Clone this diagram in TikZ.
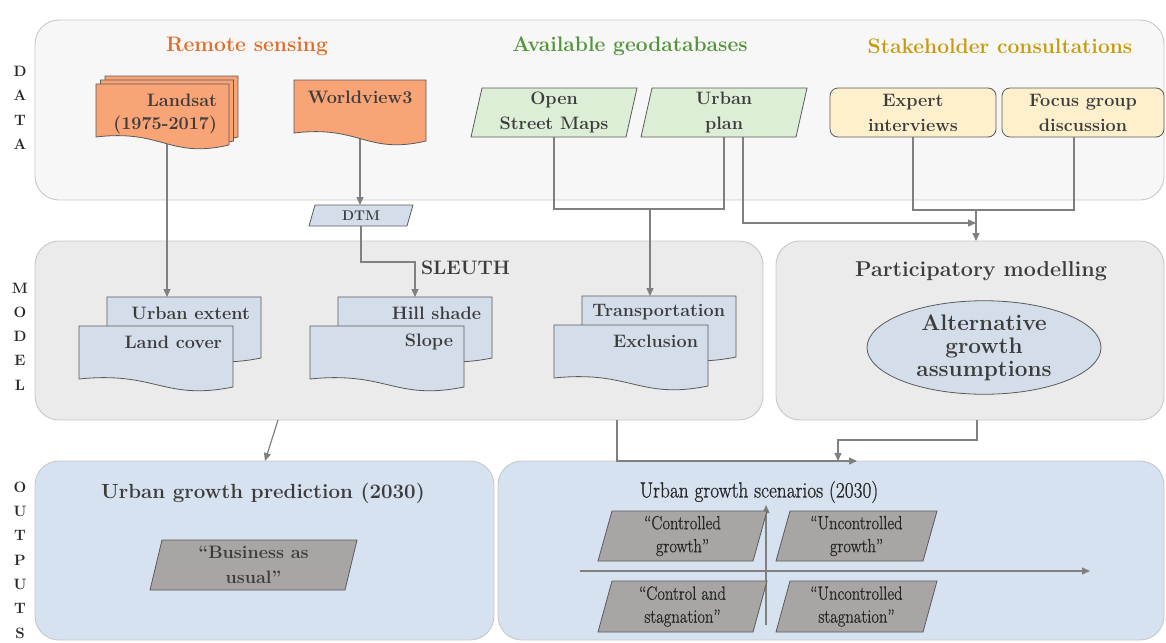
\documentclass[tikz,border=0pt]{standalone}
\usepackage{fontspec}
\usepackage{graphicx}
\usetikzlibrary{calc,arrows.meta,shapes.geometric}

\newfontfamily\semib{Latin Modern Roman}[FakeBold=0.9]

\definecolor{ink}{HTML}{3C3C3C}
\definecolor{darkink}{HTML}{262626}
\definecolor{linkc}{HTML}{808080}
\definecolor{panelline}{HTML}{C8C8C8}
\definecolor{shapeline}{HTML}{5A5A5A}
\definecolor{datafill}{HTML}{F7F7F7}
\definecolor{modelfill}{HTML}{EBEBEB}
\definecolor{outfill}{HTML}{D6E2F0}
\definecolor{rsorange}{HTML}{E36C2A}
\definecolor{geogreen}{HTML}{53953B}
\definecolor{stkgold}{HTML}{C89B0C}
\definecolor{docorange}{HTML}{F9A476}
\definecolor{geofill}{HTML}{DDEED6}
\definecolor{stkfill}{HTML}{FFF0CD}
\definecolor{layerfill}{HTML}{D4DEEA}
\definecolor{scenfill}{HTML}{A8A6A4}

\pgfdeclarelayer{panels}
\pgfdeclarelayer{links}
\pgfdeclarelayer{shapes}
\pgfsetlayers{panels,links,shapes,main}

\newcommand\fs[2]{\fontsize{#1}{#2}\selectfont}
\newcommand\cx[1]{\scalebox{0.87}[1]{#1}}

% parallelogram outline behind a named box node
\newcommand\paraShape[3]{%
  \begin{pgfonlayer}{shapes}
    \path[#3] (#1.south west) -- ($(#1.north west)+(#2,0)$) -- (#1.north east)
      -- ($(#1.south east)+(-#2,0)$) -- cycle;
  \end{pgfonlayer}}

% document outline with a wavy lower edge behind a named box node
\newcommand\docShape[2]{%
  \begin{pgfonlayer}{shapes}
    \path[#2] (#1.south west) -- (#1.north west) -- (#1.north east)
      -- ($(#1.south east)+(0,8)$)
      .. controls ($(#1.south west)!0.55!(#1.south east)+(0,22)$)
             and ($(#1.south west)!0.5!(#1.south east)+(0,-8)$) .. (#1.south west) -- cycle;
  \end{pgfonlayer}}

\begin{document}
\begin{tikzpicture}[x=1pt,y=-1pt,
  panel/.style={draw=panelline, line width=0.9pt, rounded corners=24pt, inner sep=0pt, outer sep=0pt},
  box/.style={inner sep=0pt, outer sep=0pt, text=ink, align=center, font=\bfseries\fs{18}{25}},
  lbl/.style={inner sep=0pt, outer sep=0pt, text=ink, font=\bfseries\fs{18}{25}},
  head/.style={inner sep=0pt, outer sep=0pt, font=\bfseries\fs{21}{25}},
  side/.style={inner sep=0pt, outer sep=0pt, text=darkink, align=center, font=\bfseries\fs{15}{24.3}},
  outl/.style={draw=shapeline, line width=0.8pt},
  scen/.style={box, text=darkink, font=\semib\fs{19}{23}},
  edge/.style={draw=linkc, line width=1.2pt},
  arr/.style={-{Triangle[length=8pt,width=7pt]}}
]
\useasboundingbox (0,0) rectangle (1166,642);

% ---------- panels ----------
\begin{pgfonlayer}{panels}
  \node[panel, fill=datafill, minimum width=1129pt, minimum height=180pt] (dp) at (599.5,110) {};
  \node[panel, fill=modelfill, minimum width=728pt, minimum height=179pt] (sl) at (399,330.5) {};
  \node[panel, fill=modelfill, minimum width=388pt, minimum height=179pt] (pm) at (970,330.5) {};
  \node[panel, fill=outfill, minimum width=459pt, minimum height=179pt] (pr) at (264.5,550.5) {};
  \node[panel, fill=outfill, minimum width=666pt, minimum height=179pt] (sc) at (831,550.5) {};
\end{pgfonlayer}

% ---------- row labels ----------
\node[side] (rowdata) at (20,108) {D\\A\\T\\A};
\node[side] (rowmodel) at (20,336.5) {M\\O\\D\\E\\L};
\node[side] (rowout) at (20,560) {O\\U\\T\\P\\U\\T\\S};

% ---------- data sources ----------
\node[head, text=rsorange] (hrs) at (247,46) {Remote sensing};
\node[head, text=geogreen] (hgeo) at (630,46) {Available geodatabases};
\node[head, text=stkgold] (hstk) at (1000,46) {Stakeholder consultations};

\node[box, minimum width=133pt, minimum height=53pt] (ls) at (162.5,110.5) {};
\node[box, minimum width=133pt, minimum height=53pt] (ls2) at ($(ls)+(4.5,-4)$) {};
\node[box, minimum width=133pt, minimum height=53pt] (ls3) at ($(ls)+(9,-8)$) {};
\docShape{ls3}{outl, fill=docorange}
\docShape{ls2}{outl, fill=docorange}
\docShape{ls}{outl, fill=docorange}
\node[lbl, anchor=east] (lst) at (217,100) {Landsat};
\node[lbl, anchor=east] (lsy) at (217,125) {(1975-2017)};

\node[box, minimum width=132pt, minimum height=53pt] (wv) at (360,106.5) {};
\docShape{wv}{outl, fill=docorange}
\node[box] (wvt) at (360,97) {Worldview3};

\node[box, minimum width=104pt, minimum height=21pt, font=\bfseries\fs{14}{16}] (dtm) at (361,215.5) {DTM};
\paraShape{dtm}{6}{outl, fill=layerfill}

\node[box, minimum width=166pt, minimum height=49pt] (osm) at (554,112.5) {Open\\Street Maps};
\paraShape{osm}{11}{outl, fill=geofill}
\node[box, minimum width=166pt, minimum height=49pt] (up) at (724,112.5) {Urban\\plan};
\paraShape{up}{11}{outl, fill=geofill}

\node[box, outl, fill=stkfill, rounded corners=8pt, minimum width=166pt, minimum height=49pt] (ei) at (913,112.5) {Expert\\interviews};
\node[box, outl, fill=stkfill, rounded corners=8pt, minimum width=162pt, minimum height=49pt] (fg) at (1083,112.5) {Focus group\\discussion};

% ---------- SLEUTH model layers ----------
\node[box, anchor=west, font=\bfseries\fs{19.5}{24}] (sleuth) at (421,268) {SLEUTH};

\node[box, minimum width=154pt, minimum height=53pt] (ue) at (184,323.5) {};
\node[box, minimum width=154pt, minimum height=53pt] (lc) at (156,352.5) {};
\docShape{ue}{outl, fill=layerfill}
\docShape{lc}{outl, fill=layerfill}
\node[lbl, anchor=east] (uet) at (250,313) {Urban extent};
\node[lbl, anchor=east] (lct) at (222,342) {Land cover};

\node[box, minimum width=154pt, minimum height=53pt] (hs) at (415,323.5) {};
\node[box, minimum width=154pt, minimum height=53pt] (sp) at (387,352.5) {};
\docShape{hs}{outl, fill=layerfill}
\docShape{sp}{outl, fill=layerfill}
\node[lbl, anchor=east] (hst) at (481,313) {Hill shade};
\node[lbl, anchor=east] (spt) at (453,342) {Slope};

\node[box, minimum width=154pt, minimum height=53pt] (tr) at (659,322.5) {};
\node[box, minimum width=154pt, minimum height=53pt] (ex) at (631,351.5) {};
\docShape{tr}{outl, fill=layerfill}
\docShape{ex}{outl, fill=layerfill}
\node[lbl, anchor=east] (trt) at (725,312) {Transportation};
\node[lbl, anchor=east] (ext) at (698,341) {Exclusion};

% ---------- participatory modelling ----------
\node[box, font=\bfseries\fs{21.5}{24}] (pmt) at (981,271) {Participatory modelling};
\node[box, ellipse, outl, fill=layerfill, minimum width=234pt, minimum height=77pt,
      font=\bfseries\fs{22.5}{23}] (alt) at (984,347.5) {Alternative\\growth\\assumptions};

% ---------- outputs ----------
\node[box, font=\bfseries\fs{20.5}{24}] (prt) at (263,493) {Urban growth prediction (2030)};
\node[box, minimum width=207pt, minimum height=50pt] (bau) at (253.5,565) {“Business as\\usual”};
\paraShape{bau}{12}{outl, fill=scenfill}

\node[box, text=darkink, font=\semib\fs{22}{24}] (sct) at (759,492) {\scalebox{0.88}[1]{Urban growth scenarios (2030)}};
\node[scen, minimum width=169pt, minimum height=50pt] (cg) at (682.5,536) {\cx{“Controlled}\\\cx{growth”}};
\paraShape{cg}{14}{outl, fill=scenfill}
\node[scen, minimum width=161pt, minimum height=50pt] (ug) at (856.5,536) {\cx{“Uncontrolled}\\\cx{growth”}};
\paraShape{ug}{14}{outl, fill=scenfill}
\node[scen, minimum width=169pt, minimum height=51pt] (cs) at (682.5,606.5) {\cx{“Control and}\\\cx{stagnation”}};
\paraShape{cs}{14}{outl, fill=scenfill}
\node[scen, minimum width=161pt, minimum height=51pt] (us) at (856.5,606.5) {\cx{“Uncontrolled}\\\cx{stagnation”}};
\paraShape{us}{14}{outl, fill=scenfill}

% ---------- connectors ----------
\coordinate (lsout) at ($(ls.south)+(4.5,0)$);
\coordinate (k1) at ($(dtm.south |- sl.north)+(0,21)$);
\coordinate (k2) at ($(tr.north)+(-9,-87)$);
\coordinate (upout) at ($(up.south)+(19,0)$);
\coordinate (fgout) at ($(fg.south)+(-9,0)$);
\coordinate (k3) at ($(pm.north)+(6,-31)$);
\coordinate (pmout) at ($(pm.south)+(7,0)$);
\coordinate (k4) at ($(sc.north west)+(340,-21)$);
\coordinate (axl) at (580,571);
\coordinate (axr) at (1090,571);
\coordinate (axb) at (766,625);
\coordinate (axt) at (766,505);

\begin{pgfonlayer}{links}
  \draw[edge,arr] (lsout) -- (lsout |- ue.north);
  \draw[edge,arr] (wv.south) -- (wv.south |- dtm.north);
  \draw[edge,arr] (dtm.south) -- (k1) -| (hs.north);
  \draw[edge] (osm.south) |- (k2);
  \draw[edge] (up.south) |- (k2);
  \draw[edge,arr] (k2) -- (k2 |- tr.north);
  \draw[edge] (ei.south) |- (k3);
  \draw[edge] (fgout) |- (k3);
  \draw[edge,arr] (upout) |- ($(k3)+(0,13)$);
  \draw[edge,arr] (k3) -- (k3 |- pm.north);
  \draw[edge,arr] ($(sl.south west)+(243,0)$) -- ($(pr.north west)+(230,0)$);
  \draw[edge,arr] ($(sl.south west)+(582,0)$) |- ($(sc.north west)+(359,0)$);
  \draw[edge,arr] (pmout) |- (k4) -- (k4 |- sc.north);
  \draw[edge,arr] (axl) -- (axr);
  \draw[edge,arr] (axb) -- (axt);
\end{pgfonlayer}
\end{tikzpicture}
\end{document}
